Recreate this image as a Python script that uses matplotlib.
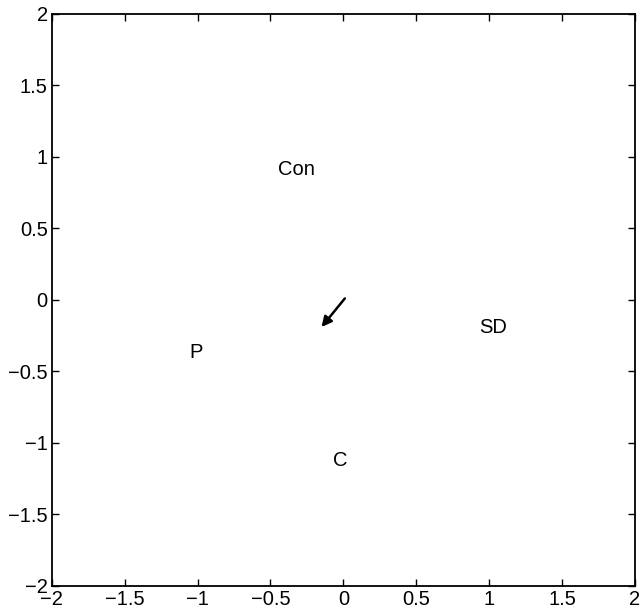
import numpy as np
import matplotlib.pyplot as plt

plt.rcParams['font.family'] = ['Liberation Sans', 'DejaVu Sans']

# label positions
labels = ['Con', 'P', 'SD', 'C']
label_x = [-0.32, -1.01, 1.03, -0.02]
label_y = [0.91, -0.37, -0.19, -1.12]

# arrow from origin towards the mean
arrow_start = (0.01, 0.01)
arrow_end = (-0.15, -0.19)

ticks = [-2, -1.5, -1, -0.5, 0, 0.5, 1, 1.5, 2]
tick_labels = ['\u22122', '\u22121.5', '\u22121', '\u22120.5', '0', '0.5', '1', '1.5', '2']

fig = plt.figure(figsize=(6.4, 6.12), dpi=100, facecolor='white')
ax = fig.add_axes([0.081, 0.0425, 0.911, 0.935])

for lab, x, y in zip(labels, label_x, label_y):
    ax.text(x, y, lab, ha='center', va='center', fontsize=14.5)

ax.annotate('', xy=arrow_end, xytext=arrow_start,
            arrowprops=dict(arrowstyle='-|>', color='black', lw=1.8,
                            mutation_scale=15, shrinkA=0, shrinkB=0))

ax.set_xlim(-2, 2)
ax.set_ylim(-2, 2)
ax.set_xticks(ticks)
ax.set_xticklabels(tick_labels)
ax.set_yticks(ticks)
ax.set_yticklabels(tick_labels)
ax.tick_params(direction='in', length=5, width=1, labelsize=14.5,
               top=True, right=True, pad=3)
for s in ax.spines.values():
    s.set_linewidth(1.3)

plt.savefig('out.png', dpi=100)
